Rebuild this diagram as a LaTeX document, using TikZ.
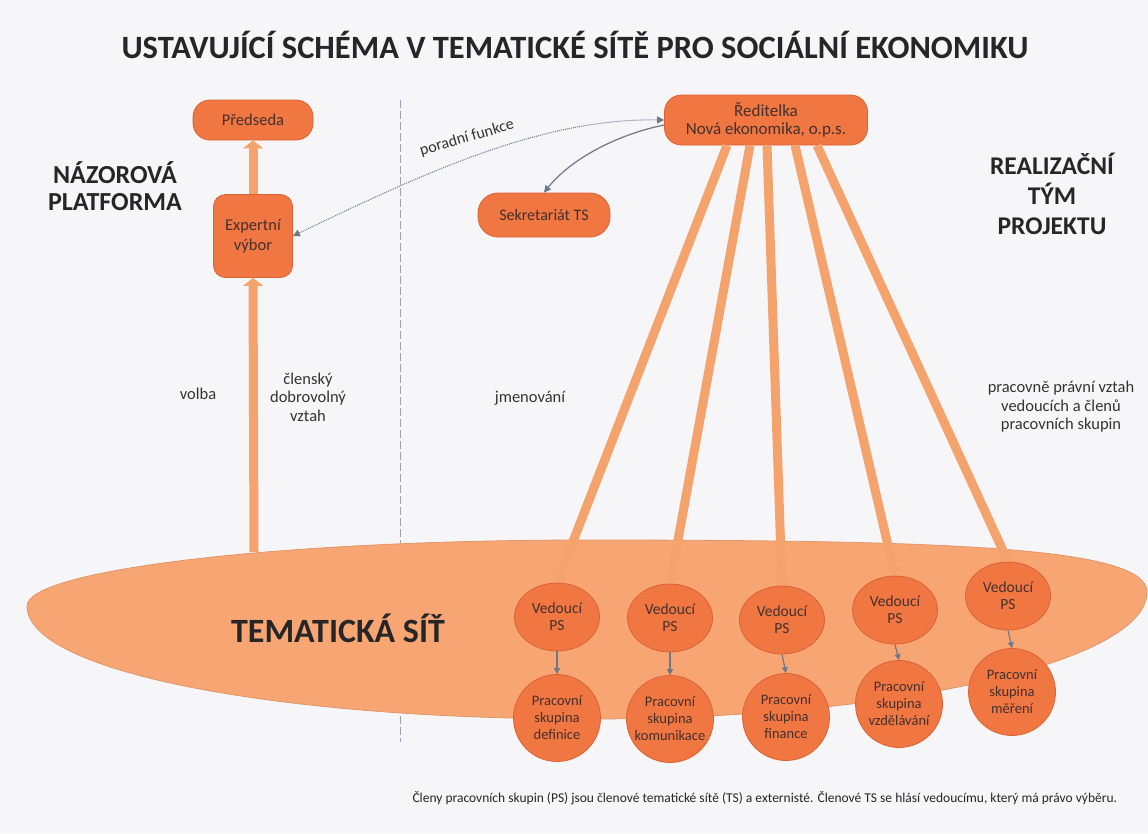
\documentclass[tikz,border=0pt]{standalone}
\usepackage{fontspec}
\setmainfont{Carlito}
\usetikzlibrary{arrows.meta,shapes.geometric}

\definecolor{nodeorange}{HTML}{F07642}
\definecolor{nodeedge}{HTML}{DC6234}
\definecolor{tsorange}{HTML}{F8A574}
\definecolor{tsedge}{HTML}{E0966A}
\definecolor{arroworange}{HTML}{F4A36C}
\definecolor{inktext}{HTML}{45302C}
\definecolor{graylink}{HTML}{6E7888}
\definecolor{divgray}{HTML}{A0A0AE}
\definecolor{bggray}{HTML}{F6F5F7}

\begin{document}
\begin{tikzpicture}[x=1pt, y=-1pt,
  box/.style={draw=nodeedge, line width=0.8pt, fill=nodeorange, text=inktext, align=center,
    inner sep=0pt, font=\fontsize{16.5}{19}\selectfont},
  ved/.style={ellipse, draw=nodeedge, line width=0.8pt, fill=nodeorange, text=inktext, align=center,
    inner sep=0pt, minimum width=85pt, minimum height=68pt, font=\fontsize{15.5}{17}\selectfont},
  prac/.style={circle, draw=nodeedge, line width=0.8pt, fill=nodeorange, text=inktext, align=center,
    inner sep=0pt, minimum size=87pt, font=\fontsize{14.5}{17}\selectfont},
  bigarrow/.style={draw=arroworange, line width=9pt, -{Triangle[width=20pt,length=8pt]}},
  smallarrow/.style={draw=graylink, line width=1.2pt, -{Triangle[width=6pt,length=6pt]}},
  heading/.style={font=\bfseries\fontsize{25.5}{28.5}\selectfont, text=black!85, align=center},
  plain/.style={font=\fontsize{16.5}{18.5}\selectfont, text=black!80, align=center}]

  \useasboundingbox (0,0) rectangle (1148,833);
  \fill[bggray] (0,0) rectangle (1148,833);

  \node[font=\bfseries\fontsize{32.5}{38}\selectfont, text=black!85] (title) at (575,45)
    {USTAVUJÍCÍ SCHÉMA V TEMATICKÉ SÍTĚ PRO SOCIÁLNÍ EKONOMIKU};

  % divider and the network
  \draw[divgray, line width=1pt, dash pattern=on 8pt off 3pt] (400,100) -- (400,742);
  \filldraw[fill=tsorange, draw=tsedge, line width=0.8pt]
    (27,606) .. controls (27,570) and (277,540) .. (587,540)
    .. controls (960,540) and (1147,548) .. (1147,592)
    .. controls (1147,662) and (896,719) .. (587,719)
    .. controls (277,719) and (27,672) .. (27,606) -- cycle;
  \node[font=\bfseries\fontsize{34}{38}\selectfont, text=black!85] (tsit) at (338,628) {TEMATICKÁ SÍŤ};
  \coordinate (tsvolba) at (254,552);

  % left side
  \node[box, minimum width=120pt, minimum height=40pt, rounded corners=17pt] (predseda) at (253,120) {Předseda};
  \node[box, minimum width=79pt, minimum height=83pt, rounded corners=12pt,
    font=\fontsize{16.5}{20}\selectfont] (expert) at (253,236) {Expertní\\výbor};
  \node[heading, font=\bfseries\fontsize{26}{27}\selectfont] (nazorova) at (115,186) {NÁZOROVÁ\\PLATFORMA};
  \node[plain] (volba) at (198,394) {volba};
  \node[plain] (clensky) at (308,397) {členský\\dobrovolný\\vztah};

  \draw[bigarrow] (tsvolba) -- (expert.south);
  \draw[bigarrow] (expert.north) -- (predseda.south);

  % right side
  \node[box, minimum width=203pt, minimum height=50pt, rounded corners=17pt,
    font=\fontsize{17}{18}\selectfont] (reditelka) at (766,120) {Ředitelka\\Nová ekonomika, o.p.s.};
  \node[box, minimum width=132pt, minimum height=44pt, rounded corners=20pt,
    font=\fontsize{16}{19}\selectfont] (sekretariat) at (544,215) {Sekretariát TS};
  \node[heading, font=\bfseries\fontsize{25.5}{30}\selectfont] (realizacni) at (1052,194) {REALIZAČNÍ\\TÝM\\PROJEKTU};
  \node[plain] (jmenovani) at (530,398) {jmenování};
  \node[plain] (pravni) at (1061,407) {pracovně právní vztah\\vedoucích a členů\\pracovních skupin};

  \draw[graylink, line width=1pt, densely dotted, {Triangle[width=7pt,length=7pt]}-{Triangle[width=7pt,length=7pt]}]
    (reditelka.west) .. controls (540,118) and (420,175) .. (expert.east);
  \node[plain, rotate=16, font=\fontsize{16}{19}\selectfont] (poradni) at (467,138) {poradní funkce};
  \draw[graylink, line width=1.2pt, -{Triangle[width=7pt,length=7pt]}]
    ([yshift=-5pt]reditelka.west) .. controls (615,135) and (570,160) .. (sekretariat.north);

  % working groups
  \node[ved] (ved1) at (557,617) {Vedoucí\\PS};
  \node[ved] (ved2) at (670,618) {Vedoucí\\PS};
  \node[ved] (ved3) at (782,620) {Vedoucí\\PS};
  \node[ved] (ved4) at (895,610) {Vedoucí\\PS};
  \node[ved] (ved5) at (1008,596) {Vedoucí\\PS};

  \node[prac] (prac1) at (557,718) {Pracovní\\skupina\\definice};
  \node[prac] (prac2) at (670,719) {Pracovní\\skupina\\komunikace};
  \node[prac] (prac3) at (786,717) {Pracovní\\skupina\\finance};
  \node[prac] (prac4) at (899,704) {Pracovní\\skupina\\vzdělávání};
  \node[prac] (prac5) at (1012,692) {Pracovní\\skupina\\měření};

  \draw[bigarrow] ([xshift=-39pt]reditelka.south) -- (ved1.north);
  \draw[bigarrow] ([xshift=-16pt]reditelka.south) -- (ved2.north);
  \draw[bigarrow] ([xshift=1pt]reditelka.south) -- (ved3.north);
  \draw[bigarrow] ([xshift=29pt]reditelka.south) -- (ved4.north);
  \draw[bigarrow] ([xshift=51pt]reditelka.south) -- (ved5.north);

  \foreach \i in {1,...,5}
    \draw[smallarrow] (ved\i.south) -- (prac\i.north);

  \node[anchor=west, font=\fontsize{13.5}{15}\selectfont, text=black!85] (note) at (409,798)
    {Členy pracovních skupin (PS) jsou členové tematické sítě (TS) a externisté. Členové TS se hlásí vedoucímu, který má právo výběru.};

\end{tikzpicture}
\end{document}
